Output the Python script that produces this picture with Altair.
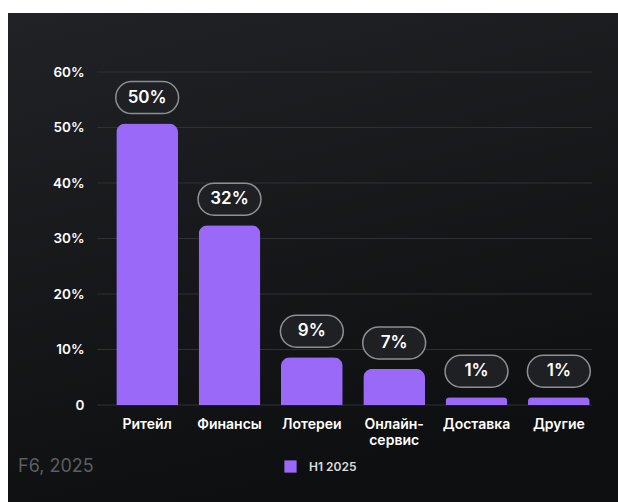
import altair as alt
import pandas as pd

categories = ["Ритейл", "Финансы", "Лотереи", "Онлайн-|сервис", "Доставка", "Другие"]
values = [50.7, 32.4, 8.6, 6.5, 1.4, 1.4]
value_labels = ["50%", "32%", "9%", "7%", "1%", "1%"]
series_name = "H1 2025"
y_ticks = [0, 10, 20, 30, 40, 50, 60]
source_note = "F6, 2025"

df = pd.DataFrame({"cat": categories, "val": values, "lab": value_labels, "series": [series_name] * len(categories)})
grid_df = pd.DataFrame({"t": y_ticks})

PURPLE = "#9a69f8"
FONT = "Inter"

x_enc = alt.X("cat:N", sort=categories, title=None,
              scale=alt.Scale(paddingInner=0.25, paddingOuter=0.125),
              axis=alt.Axis(labelExpr="split(datum.label, '|')", labelColor="#ffffff",
                            labelFontSize=14, labelFontWeight=600, labelFont=FONT,
                            labelPadding=12, labelLineHeight=16, labelAngle=0,
                            domain=False, ticks=False, zindex=2))
y_scale = alt.Scale(domain=[0, 60], nice=False)

bg = alt.Chart(alt.Data(values=[{"a": 1}])).mark_rect(
    color=alt.Gradient(gradient="linear", x1=0, y1=0, x2=0.3, y2=1,
                       stops=[alt.GradientStop(color="#202225", offset=0),
                              alt.GradientStop(color="#0e0f11", offset=1)])
).encode(x=alt.value(-98), x2=alt.value(512), y=alt.value(-59), y2=alt.value(430))

grid = alt.Chart(grid_df).mark_rule(color="#2e3033", strokeWidth=1).encode(
    y=alt.Y("t:Q", scale=y_scale, title=None,
            axis=alt.Axis(values=y_ticks, labelExpr="datum.value == 0 ? '0' : datum.value + '%'",
                          labelColor="#ffffff", labelFontSize=13.5, labelFontWeight=600, labelFont=FONT,
                          labelPadding=22, domain=False, ticks=False, grid=False, zindex=2)),
    x=alt.value(-9), x2=alt.value(486)
)

bars = alt.Chart(df).mark_bar(cornerRadiusTopLeft=9, cornerRadiusTopRight=9).encode(
    x=x_enc,
    y=alt.Y("val:Q", scale=y_scale),
    color=alt.Color("series:N", scale=alt.Scale(domain=[series_name], range=[PURPLE]),
                    legend=alt.Legend(title=None, orient="none", legendX=178, legendY=388,
                                      symbolType="square", symbolSize=150, symbolStrokeWidth=0,
                                      labelColor="#dddddd", labelFontSize=12, labelFontWeight=600,
                                      labelFont=FONT, labelOffset=12, padding=0, zindex=2))
)

pill_path = "M-0.49,-0.508 L0.49,-0.508 A0.508,0.508 0 0 1 0.49,0.508 L-0.49,0.508 A0.508,0.508 0 0 1 -0.49,-0.508 Z"
pills = alt.Chart(df).mark_point(shape=pill_path, size=3969, filled=True, fill="#1e2023",
                                 stroke="#8d8f93", strokeWidth=1.5, opacity=1, yOffset=-26).encode(
    x=alt.X("cat:N", sort=categories),
    y=alt.Y("val:Q", scale=y_scale)
)

texts = alt.Chart(df).mark_text(color="#ffffff", fontSize=17, fontWeight=600, font=FONT,
                                baseline="middle", align="center", yOffset=-26).encode(
    x=alt.X("cat:N", sort=categories),
    y=alt.Y("val:Q", scale=y_scale),
    text="lab:N"
)

note = alt.Chart(alt.Data(values=[{"s": source_note}])).mark_text(
    color="#5c5e62", fontSize=18, font=FONT, align="left", baseline="middle"
).encode(x=alt.value(-88), y=alt.value(395), text="s:N")

chart = alt.layer(bg, grid, bars, pills, texts, note).properties(
    width=494, height=333,
    padding={"left": 106, "top": 72, "right": 18, "bottom": 97},
    autosize=alt.AutoSizeParams(type="none"),
    background="#ffffff"
).configure_view(stroke=None)

chart.save("out.html", embed_options={"renderer": "svg", "actions": False})
